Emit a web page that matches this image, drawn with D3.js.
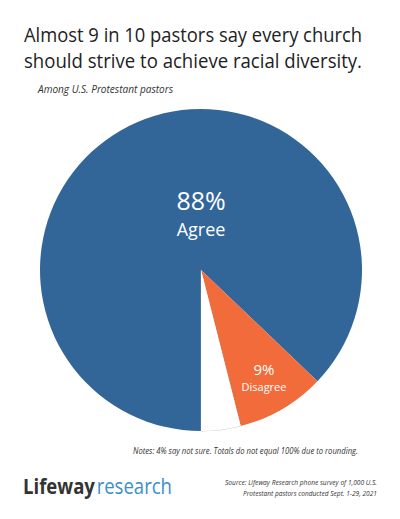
<!DOCTYPE html><html><head><script src="https://cdn.jsdelivr.net/npm/d3@7"></script>
<style>body{margin:0;background:#fff}</style></head><body><svg id="c" width="400" height="519"></svg>
<script>
const categories=["Agree","Disagree","Not sure"];
const values=[88,9,4];
const colors=["#326699","#f26b3a","#ffffff"];
const svg=d3.select("#c");
const f="Open Sans, sans-serif";
function t(x,y,s,txt,o={}){const e=svg.append("text").attr("x",x).attr("y",y).attr("font-family",o.f||f).attr("font-size",s).attr("fill",o.c||"#222").text(txt);
 if(o.i)e.attr("font-style","italic"); if(o.a)e.attr("text-anchor",o.a); if(o.w)e.attr("textLength",o.w).attr("lengthAdjust","spacingAndGlyphs"); return e;}
t(24,42,20.5,"Almost 9 in 10 pastors say every church",{w:338});
t(24,68,20.5,"should strive to achieve racial diversity.",{w:338});
t(38,93,10,"Among U.S. Protestant pastors",{i:1,c:"#333",w:135});
const cx=201,cy=270,r=161;
const pie=d3.pie().sort(null).startAngle(Math.PI).endAngle(3*Math.PI);
const arc=d3.arc().innerRadius(0).outerRadius(r);
const g=svg.append("g").attr("transform",`translate(${cx},${cy})`);
g.selectAll("path").data(pie(values)).join("path").attr("d",arc).attr("fill",(d,i)=>colors[i]).attr("stroke",(d,i)=>i==2?"#999":"none").attr("stroke-width",0.6);
g.append("path").attr("d",arc(pie(values)[2])).attr("fill","#fff");
g.append("text").attr("x",0).attr("y",-60).attr("text-anchor","middle").attr("font-family",f).attr("font-size",25).attr("fill","#fff").text(values[0]+"%");
g.append("text").attr("x",0).attr("y",-34).attr("text-anchor","middle").attr("font-family",f).attr("font-size",18).attr("fill","#fff").text(categories[0]);
g.append("text").attr("x",63).attr("y",105).attr("text-anchor","middle").attr("font-family",f).attr("font-size",15).attr("fill","#fff").text(values[1]+"%");
g.append("text").attr("x",63).attr("y",121).attr("text-anchor","middle").attr("font-family",f).attr("font-size",11).attr("fill","#fff").text(categories[1]);
t(133,454,8.5,"Notes: 4% say not sure. Totals do not equal 100% due to rounding.",{i:1,c:"#333",w:225});
const l=svg.append("text").attr("x",23).attr("y",494).attr("font-family",f).attr("font-size",21).attr("textLength",149).attr("lengthAdjust","spacingAndGlyphs");
l.append("tspan").attr("font-weight","bold").attr("fill","#333").text("Lifeway");
l.append("tspan").attr("fill","#3a8fc7").attr("dx",2).text("research");
t(377,485,7.5,"Source: Lifeway Research phone survey of 1,000 U.S.",{i:1,c:"#333",a:"end",w:152});
t(377,496,7.5,"Protestant pastors conducted Sept. 1-29, 2021",{i:1,c:"#333",a:"end",w:134});
</script></body></html>
